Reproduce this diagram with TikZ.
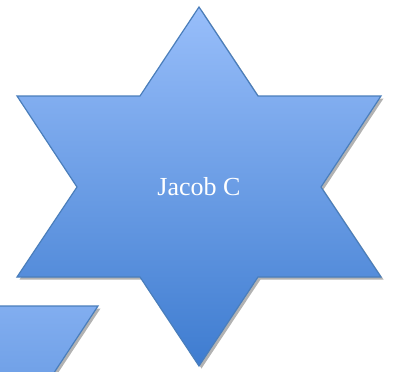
\documentclass[tikz,border=0pt]{standalone}
\usepackage{fontspec}
\setmainfont{Liberation Serif}
\usetikzlibrary{shadows}
\definecolor{startop}{RGB}{152,190,250}
\definecolor{starbot}{RGB}{62,124,208}
\definecolor{staredge}{RGB}{74,126,187}

\begin{document}
\begin{tikzpicture}[
    x=1pt, y=-1pt,
    hexstar/.style={draw=staredge, line width=1.2pt, top color=startop, bottom color=starbot, drop shadow={shadow xshift=2.5pt, shadow yshift=-2.5pt, opacity=0.3, fill=black}},
    starlabel/.style={text=white, font=\fontsize{26}{30}\selectfont}
]
\useasboundingbox (0,0) rectangle (394,372);
% second star, mostly off the page
\begin{scope}[shift={(-283,210)}]
\path[hexstar] (199,7) -- (258,96) -- (381,96) -- (321,187) -- (381,277) -- (258,277) -- (199,366) -- (140,277) -- (17,277) -- (77,187) -- (17,96) -- (140,96) -- cycle;
\end{scope}
% main star
\path[hexstar] (199,7) -- (258,96) -- (381,96) -- (321,187) -- (381,277) -- (258,277) -- (199,366) -- (140,277) -- (17,277) -- (77,187) -- (17,96) -- (140,96) -- cycle;
\node (jacob) [starlabel] at (199,187) {Jacob C};
\end{tikzpicture}
\end{document}
